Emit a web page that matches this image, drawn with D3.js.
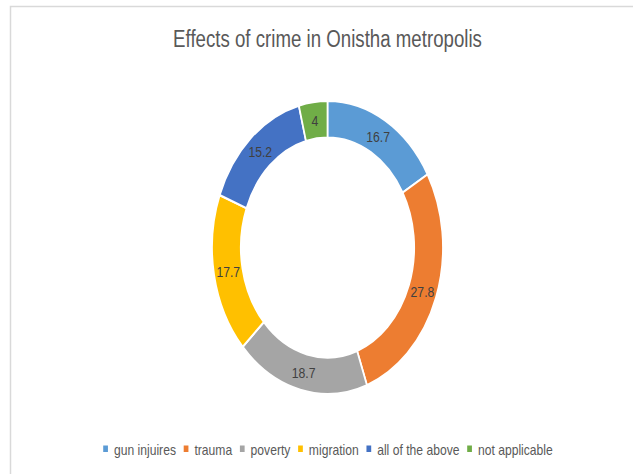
<!DOCTYPE html>
<html>
<head>
<meta charset="utf-8">
<script src="https://cdn.jsdelivr.net/npm/d3@7"></script>
<style>
  html, body { margin: 0; padding: 0; background: #fff; }
  svg { display: block; }
</style>
</head>
<body>
<script>
// ---- data ----
const categories = ["gun injuires", "trauma", "poverty", "migration", "all of the above", "not applicable"];
const values = [16.7, 27.8, 18.7, 17.7, 15.2, 4];
const colors = ["#5B9BD5", "#ED7D31", "#A5A5A5", "#FFC000", "#4472C4", "#70AD47"];
const title = "Effects of crime in Onistha metropolis";

// ---- layout ----
const W = 633, H = 474;
const sx = 0.788;              // horizontal squeeze of the original picture
const cx = 327.5 / sx, cy = 247.5;
const outerR = 146.5, innerR = 110;
const font = "'Liberation Sans', Arial, sans-serif";

const svg = d3.select("body").append("svg")
  .attr("width", W).attr("height", H);

svg.append("rect").attr("width", W).attr("height", H).attr("fill", "#fff");

// chart frame (extends past the right / bottom edges)
svg.append("rect")
  .attr("x", 10.5).attr("y", 6.5)
  .attr("width", W + 20).attr("height", H + 20)
  .attr("fill", "none").attr("stroke", "#d9d9d9").attr("stroke-width", 1.5);

const g = svg.append("g").attr("transform", `scale(${sx},1)`);

// title
g.append("text")
  .attr("x", cx).attr("y", 47)
  .attr("text-anchor", "middle")
  .attr("font-family", font).attr("font-size", 23.7)
  .attr("fill", "#595959")
  .text(title);

// donut
const data = categories.map((c, i) => ({ name: c, value: values[i], color: colors[i] }));
const pie = d3.pie().sort(null).value(d => d.value);
const arc = d3.arc().innerRadius(innerR).outerRadius(outerR);
const labelArc = d3.arc().innerRadius((innerR + outerR) / 2).outerRadius((innerR + outerR) / 2);

const dg = g.append("g").attr("transform", `translate(${cx},${cy})`);
const arcs = pie(data);
dg.selectAll("path").data(arcs).join("path")
  .attr("d", arc)
  .attr("fill", d => d.data.color)
  .attr("stroke", "#fff")
  .attr("stroke-width", 2.2);

dg.selectAll("text").data(arcs).join("text")
  .attr("transform", d => `translate(${labelArc.centroid(d)})`)
  .attr("text-anchor", "middle")
  .attr("dy", "0.36em")
  .attr("font-family", font).attr("font-size", 15.5)
  .attr("fill", "#404040")
  .text(d => d3.format("")(d.data.value));

// legend
const lg = g.append("g");
const sq = 6, gapTxt = 7.6, gapItem = 9.8, legY = 455;
let x = 0;
data.forEach(d => {
  const it = lg.append("g");
  it.append("rect").attr("x", x).attr("y", legY - 9.5).attr("width", sq).attr("height", sq + 0.5)
    .attr("fill", d.color);
  const t = it.append("text").attr("x", x + sq + gapTxt).attr("y", legY)
    .attr("font-family", font).attr("font-size", 15.4).attr("fill", "#595959")
    .text(d.name);
  x += sq + gapTxt + t.node().getComputedTextLength() + gapItem;
});
const totalW = x - gapItem;
lg.attr("transform", `translate(${328 / sx - totalW / 2},0)`);
</script>
</body>
</html>
